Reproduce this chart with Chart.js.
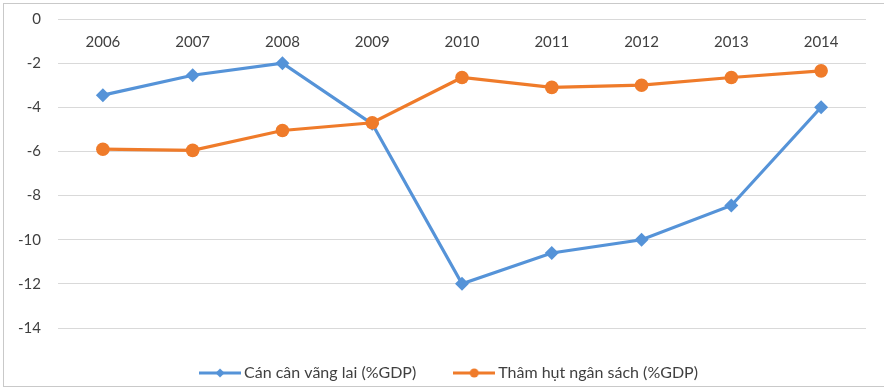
<!DOCTYPE html>
<html>
<head>
<meta charset="utf-8">
<script src="https://cdn.jsdelivr.net/npm/chart.js@4"></script>
<style>
  html, body { margin: 0; padding: 0; background: #fff; }
  #wrap { width: 884px; height: 390px; position: relative; }
</style>
</head>
<body>
<div id="wrap"><canvas id="c" width="884" height="390"></canvas></div>
<script>
const years = ['2006', '2007', '2008', '2009', '2010', '2011', '2012', '2013', '2014'];
const currentAccount = [-3.45, -2.55, -2.0, -4.75, -12.0, -10.6, -10.0, -8.45, -4.0];
const budgetDeficit = [-5.9, -5.95, -5.05, -4.7, -2.65, -3.1, -3.0, -2.65, -2.35];
const yTicks = [0, -2, -4, -6, -8, -10, -12, -14];
const seriesNames = ['Cán cân vãng lai (%GDP)', 'Thâm hụt ngân sách (%GDP)'];

const BLUE = '#5593D8';
const ORANGE = '#EF7B2A';
const TEXT = '#404040';
const FONT = 'Lato';

function legendIcon(color, style) {
  const cv = document.createElement('canvas');
  cv.width = 42; cv.height = 14;
  const ctx = cv.getContext('2d');
  ctx.strokeStyle = color; ctx.lineWidth = 3;
  ctx.beginPath(); ctx.moveTo(0, 7); ctx.lineTo(42, 7); ctx.stroke();
  ctx.fillStyle = color;
  ctx.beginPath();
  if (style === 'circle') { ctx.arc(21, 7, 4.5, 0, Math.PI * 2); }
  else { ctx.moveTo(21, 2.5); ctx.lineTo(25.5, 7); ctx.lineTo(21, 11.5); ctx.lineTo(16.5, 7); ctx.closePath(); }
  ctx.fill();
  return cv;
}

const framePlugin = {
  id: 'frame',
  afterLayout(chart) {
    const lg = chart.legend;
    if (lg) { lg.left += 18; lg.right += 18; lg.top -= 5; lg.bottom -= 5; }
  },
  beforeDraw(chart) {
    const ctx = chart.ctx;
    ctx.save();
    ctx.fillStyle = '#fff';
    ctx.fillRect(0, 0, chart.width, chart.height);
    ctx.strokeStyle = '#c9c9c9';
    ctx.lineWidth = 1;
    ctx.strokeRect(3.5, 3.5, chart.width + 10, 383);
    ctx.restore();
  }
};

new Chart(document.getElementById('c'), {
  type: 'line',
  data: {
    labels: years,
    datasets: [
      {
        label: seriesNames[0], data: currentAccount,
        borderColor: BLUE, backgroundColor: BLUE, borderWidth: 3.2,
        pointStyle: 'rectRot', pointRadius: 7, pointHoverRadius: 7,
        pointBorderWidth: 0, order: 1, tension: 0
      },
      {
        label: seriesNames[1], data: budgetDeficit,
        borderColor: ORANGE, backgroundColor: ORANGE, borderWidth: 3.2,
        pointStyle: 'circle', pointRadius: 6.8, pointHoverRadius: 6.8,
        pointBorderWidth: 0, order: 0, tension: 0
      }
    ]
  },
  options: {
    responsive: false,
    animation: false,
    devicePixelRatio: 1,
    layout: { padding: { top: 19, right: 18, bottom: -6, left: 0 } },
    scales: {
      x: {
        position: { y: 0 },
        offset: true,
        grid: { display: false, drawTicks: false },
        border: { display: false },
        ticks: { color: TEXT, font: { family: FONT, size: 15 }, padding: 14, maxRotation: 0 }
      },
      y: {
        min: -14, max: 0,
        afterFit(scale) { scale.width = 58; },
        afterBuildTicks(scale) { scale.ticks = yTicks.map(v => ({ value: v })); },
        grid: { color: '#d9d9d9', lineWidth: 1, drawTicks: true, tickLength: 17, tickColor: 'rgba(0,0,0,0)' },
        border: { display: false },
        ticks: { color: TEXT, font: { family: FONT, size: 15 }, padding: 0 }
      }
    },
    plugins: {
      tooltip: { enabled: false },
      legend: {
        position: 'bottom',
        labels: {
          usePointStyle: true,
          pointStyleWidth: 32,
          padding: 42,
          color: TEXT,
          font: { family: FONT, size: 16 },
          generateLabels(chart) {
            return chart.data.datasets.map((ds, i) => ({
              text: ds.label,
              fillStyle: ds.borderColor,
              strokeStyle: ds.borderColor,
              lineWidth: 0,
              pointStyle: legendIcon(ds.borderColor, ds.pointStyle),
              hidden: false,
              datasetIndex: i,
              fontColor: TEXT
            }));
          }
        }
      }
    }
  },
  plugins: [framePlugin]
});
</script>
</body>
</html>
